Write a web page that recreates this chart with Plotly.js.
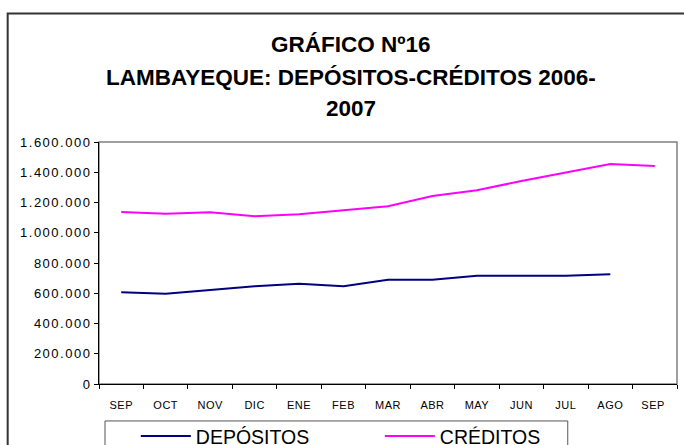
<!DOCTYPE html>
<html>
<head>
<meta charset="utf-8">
<script src="https://cdn.plot.ly/plotly-3.0.1.min.js"></script>
<style>
html,body{margin:0;padding:0;background:#fff;}
#chart{width:684px;height:445px;}
.ytick text{letter-spacing:1.5px;}
.xtick text{letter-spacing:0.5px;}
</style>
</head>
<body>
<div id="chart"></div>
<script>
const months = ["SEP","OCT","NOV","DIC","ENE","FEB","MAR","ABR","MAY","JUN","JUL","AGO","SEP "];
const depositos = [607000, 597000, 621000, 647000, 662000, 647000, 689000, 689000, 715000, 715000, 715000, 726000, null];
const creditos = [1138000, 1125000, 1136000, 1109000, 1122000, 1149000, 1175000, 1243000, 1281000, 1342000, 1400000, 1455000, 1441000];
const titleLines = ["GRÁFICO Nº16", "LAMBAYEQUE: DEPÓSITOS-CRÉDITOS 2006-", "2007"];
const yTicks = [0, 200000, 400000, 600000, 800000, 1000000, 1200000, 1400000, 1600000];

const traces = [
  {x: months, y: depositos, name: "DEPÓSITOS", type: "scatter", mode: "lines",
   line: {color: "#000080", width: 2}, connectgaps: false},
  {x: months, y: creditos, name: "CRÉDITOS", type: "scatter", mode: "lines",
   line: {color: "#FF00FF", width: 2}}
];

const titleFont = {family: "Liberation Sans, Arial, sans-serif", size: 22.5, color: "#000"};
const titleY = [1.403, 1.267, 1.139];
const annotations = titleLines.map((t, i) => ({
  text: "<b>" + t + "</b>", xref: "paper", yref: "paper",
  x: 0.436, y: titleY[i], xanchor: "center", yanchor: "middle",
  showarrow: false, font: titleFont
}));

const layout = {
  width: 684, height: 445,
  margin: {l: 99, r: 7, t: 142, b: 61, autoexpand: false},
  paper_bgcolor: "#fff", plot_bgcolor: "#fff",
  separators: ",.",
  showlegend: true,
  legend: {orientation: "h", x: 0.0637, xanchor: "left", y: -0.136, yanchor: "top",
    borderwidth: 0, bgcolor: "rgba(0,0,0,0)", itemwidth: 50,
    font: {family: "Liberation Sans, Arial, sans-serif", size: 19.5, color: "#000"},
    entrywidth: 179, entrywidthmode: "pixels", traceorder: "normal"},
  xaxis: {type: "category", range: [-0.5, 12.5], tickson: "boundaries", ticks: "outside", ticklen: 4,
    tickcolor: "#000", showline: true, linecolor: "#000", linewidth: 1,
    showgrid: false, zeroline: false, fixedrange: true, ticklabelstandoff: 11,
    tickfont: {family: "Liberation Sans, Arial, sans-serif", size: 11, color: "#000"}},
  yaxis: {range: [0, 1600000], tickvals: yTicks, tickformat: ",d", ticks: "outside", ticklen: 4,
    tickcolor: "#000", showline: true, linecolor: "#000", linewidth: 1,
    showgrid: false, zeroline: false, fixedrange: true,
    tickfont: {family: "Liberation Sans, Arial, sans-serif", size: 13, color: "#000"}},
  shapes: [
    {type: "rect", xref: "paper", yref: "paper", x0: 0, x1: 1, y0: 0, y1: 1,
     line: {color: "#808080", width: 1.5}, layer: "below"},
    {type: "rect", xref: "paper", yref: "paper", x0: 0.0104, x1: 0.811, y0: -0.35, y1: -0.1527,
     line: {color: "#555", width: 1}, layer: "below"},
    {type: "rect", xref: "paper", yref: "paper", x0: -0.158, x1: 1.03, y0: -0.35, y1: 1.531,
     line: {color: "#333", width: 2}}
  ],
  annotations: annotations
};

Plotly.newPlot("chart", traces, layout, {displayModeBar: false, staticPlot: true});
</script>
</body>
</html>
